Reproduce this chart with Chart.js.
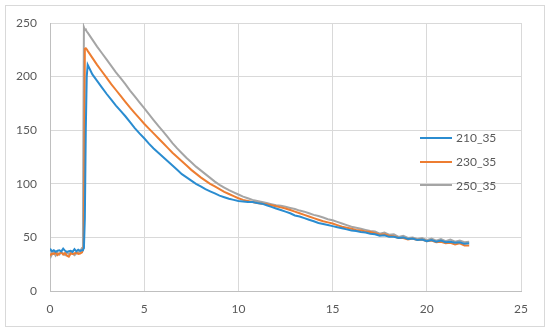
<!DOCTYPE html>
<html>
<head>
<meta charset="utf-8">
<script src="https://cdn.jsdelivr.net/npm/chart.js@4.4.1/dist/chart.umd.min.js"></script>
<style>
  html, body { margin: 0; padding: 0; background: #fff; }
  #wrap { position: relative; width: 550px; height: 335px; }
  #legend { position: absolute; left: 420px; top: 126px; font-family: Lato, sans-serif; font-size: 12px; color: #595959; }
  #legend .item { height: 23.7px; display: flex; align-items: center; }
  #legend .swatch { width: 32px; height: 2px; margin-right: 4px; }
</style>
</head>
<body>
<div id="wrap">
  <canvas id="chart" width="550" height="335"></canvas>
  <div id="legend"></div>
</div>
<script>
// time axis (shared by all three runs)
const time = [
  0, 0.1, 0.2, 0.3, 0.4, 0.5, 0.6, 0.7, 0.8, 0.9, 1.0, 1.1, 1.2, 1.3, 1.4, 1.5, 1.6, 1.7,
  1.75, 1.8, 1.85, 1.9, 1.95, 2.0,
  2.25, 2.5, 2.75, 3.0, 3.25, 3.5, 3.75, 4.0, 4.25, 4.5, 4.75, 5.0,
  5.25, 5.5, 5.75, 6.0, 6.25, 6.5, 6.75, 7.0, 7.25, 7.5, 7.75, 8.0,
  8.25, 8.5, 8.75, 9.0, 9.25, 9.5, 9.75, 10.0, 10.25, 10.5, 10.75, 11.0,
  11.25, 11.5, 11.75, 12.0, 12.25, 12.5, 12.75, 13.0, 13.25, 13.5, 13.75, 14.0,
  14.25, 14.5, 14.75, 15.0, 15.25, 15.5, 15.75, 16.0, 16.25, 16.5, 16.75, 17.0,
  17.25, 17.5, 17.75, 18.0, 18.25, 18.5, 18.75, 19.0, 19.25, 19.5, 19.75, 20.0,
  20.25, 20.5, 20.75, 21.0, 21.25, 21.5, 21.75, 22.0, 22.25
];

const run210 = [
  39.5, 37, 38, 36.5, 37.5, 38, 37, 39.5, 37.5, 36.5, 37, 37.5, 36.5, 39, 37, 38.5, 37.5, 38,
  38.5, 40, 68, 150, 200, 211,
  202, 196, 190, 184, 178.5, 173, 168, 163, 157.5, 152, 147, 142.5,
  137.5, 133, 129, 125, 121, 117, 113, 109, 106, 103, 100, 97.5,
  95, 93, 91, 89, 87.5, 86, 85, 84, 83.5, 83, 83, 82,
  81.5, 80, 78.5, 77, 75.5, 74, 72.5, 70.5, 69.5, 68, 66.5, 65,
  63.5, 62.5, 61.5, 60.5, 59.5, 58.5, 57.5, 56.5, 56, 55, 54.5, 53.5,
  53, 51.5, 52, 50.5, 50.5, 49.5, 50, 48.5, 49, 47.5, 48, 46.5,
  47.5, 46, 47, 45.5, 46, 45, 45.5, 44, 44.5
];

const run230 = [
  33, 35, 34.5, 36, 33.5, 35, 36, 34, 35.5, 33, 32, 35, 34.5, 35, 36, 34.5, 35, 36,
  36, 42, 226, 226.5, 225.5, 224,
  217.5, 211, 205, 199, 193, 187.5, 182, 176.5, 171, 166, 161, 156,
  151.5, 147, 142.5, 138, 133.5, 129, 125, 121, 117, 113, 109.5, 106,
  103, 100, 97.5, 95, 92.5, 90.5, 88.5, 86.5, 85, 84, 83, 82,
  81.5, 81, 80, 79, 78, 77, 75.5, 74, 72.5, 71, 69.5, 68,
  66.5, 65, 64, 63, 61.5, 60, 59, 58, 57, 56.5, 55.5, 55,
  54, 52.5, 53, 51.5, 51, 49.5, 49.5, 48, 49, 47.5, 48, 46.5,
  47, 45.5, 46, 44.5, 45, 43.5, 44.5, 42.5, 42.5
];

const run250 = [
  30.5, 34, 36, 33, 35.5, 34, 36.5, 35, 33.5, 36, 34.5, 36, 35, 33.5, 35, 36, 37, 40,
  58, 246, 243.5, 244, 242, 241,
  234.5, 228, 222, 216, 210, 204, 198.5, 193, 187, 181.5, 176, 170.5,
  165, 159.5, 154, 149, 143.5, 138, 133, 128.5, 124, 120, 116, 112.5,
  109, 105.5, 102, 99, 96.5, 94, 92, 90, 88, 86.5, 85, 84,
  83, 82, 81, 80, 79.5, 78.5, 77.5, 76.5, 75, 74, 72.5, 71,
  70, 68.5, 67, 66, 64.5, 63, 61.5, 60, 59, 58, 57, 56,
  55.5, 53.5, 54.5, 52.5, 53, 50.5, 51.5, 49.5, 50, 48.5, 49.5, 47.5,
  49, 47, 48.5, 46.5, 48, 46, 47, 45.5, 46
];

const seriesNames = ["210_35", "230_35", "250_35"];
const seriesColors = ["#2a8cd0", "#ed7d31", "#a5a5a5"];
const xTicks = [0, 5, 10, 15, 20, 25];
const yTicks = [0, 50, 100, 150, 200, 250];

const toPoints = (ys) => time.map((t, i) => ({ x: t, y: ys[i] }));

const frame = {
  id: "frame",
  beforeDraw(chart) {
    const c = chart.ctx;
    c.save();
    c.fillStyle = "#fff";
    c.fillRect(0, 0, chart.width, chart.height);
    c.strokeStyle = "#d9d9d9";
    c.lineWidth = 1;
    c.strokeRect(5.5, 5.5, 539, 321);
    c.restore();
  }
};

const chart = new Chart(document.getElementById("chart"), {
  type: "line",
  data: {
    datasets: [run210, run230, run250].map((ys, i) => ({
      label: seriesNames[i],
      data: toPoints(ys),
      borderColor: seriesColors[i],
      backgroundColor: seriesColors[i],
      borderWidth: 2,
      pointRadius: 0,
      tension: 0,
      fill: false
    }))
  },
  options: {
    responsive: false,
    animation: false,
    layout: { padding: { left: 0, right: 29, top: 23, bottom: 0 } },
    plugins: { legend: { display: false }, tooltip: { enabled: false } },
    scales: {
      x: {
        type: "linear",
        min: xTicks[0],
        max: xTicks[xTicks.length - 1],
        afterBuildTicks: (s) => { s.ticks = xTicks.map((v) => ({ value: v })); },
        afterFit: (s) => { s.height = 44; },
        grid: { color: "#d9d9d9", drawTicks: false },
        border: { color: "#bfbfbf" },
        ticks: { color: "#595959", font: { family: "Lato", size: 12 }, padding: 11 }
      },
      y: {
        min: yTicks[0],
        max: yTicks[yTicks.length - 1],
        afterBuildTicks: (s) => { s.ticks = yTicks.map((v) => ({ value: v })); },
        afterFit: (s) => { s.width = 50; },
        grid: { color: "#d9d9d9", drawTicks: false },
        border: { color: "#bfbfbf" },
        ticks: { color: "#595959", font: { family: "Lato", size: 12 }, padding: 13 }
      }
    }
  },
  plugins: [frame]
});

// legend sits inside the plot area, like the original
const legend = document.getElementById("legend");
chart.data.datasets.forEach((ds) => {
  const item = document.createElement("div");
  item.className = "item";
  const sw = document.createElement("span");
  sw.className = "swatch";
  sw.style.background = ds.borderColor;
  const txt = document.createElement("span");
  txt.textContent = ds.label;
  item.appendChild(sw);
  item.appendChild(txt);
  legend.appendChild(item);
});
</script>
</body>
</html>
